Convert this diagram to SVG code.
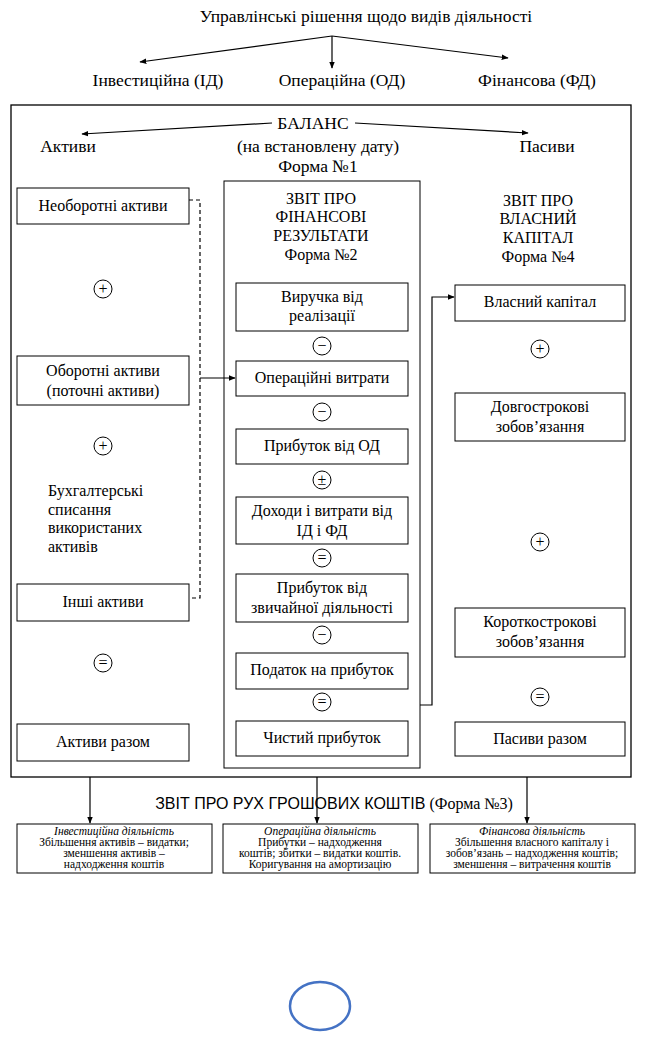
<svg xmlns="http://www.w3.org/2000/svg" width="647" height="1038" viewBox="0 0 647 1038" font-family="'Liberation Serif', 'DejaVu Serif', serif">
<style>
text{font-family:'Liberation Serif','DejaVu Serif',serif;fill:#000}
.h{font-size:17.5px;text-anchor:middle}
.b{font-size:16px;text-anchor:middle}
.s{font-size:11.5px;text-anchor:middle}
.i{font-style:italic}
.box{fill:#fff;stroke:#000;stroke-width:1}
.ln{fill:none;stroke:#000;stroke-width:1.2}
.op circle{fill:#fff;stroke:#000;stroke-width:1}
.op text{font-size:16px;text-anchor:middle}
.sans{font-family:'Liberation Sans','DejaVu Sans',sans-serif}
</style>
<defs>
<marker id="ah" viewBox="0 0 10 10" refX="9" refY="5" markerWidth="7" markerHeight="7" orient="auto" markerUnits="userSpaceOnUse">
<path d="M0,1 L10,5 L0,9 z" fill="#000"/>
</marker>
</defs>
<rect width="647" height="1038" fill="#fff"/>

<g id="title"><text class="h" x="366" y="22">Управлінські рішення щодо видів діяльності</text></g>
<g id="n-id"><text class="h" x="158" y="86">Інвестиційна (ІД)</text></g>
<g id="n-od"><text class="h" x="342" y="86">Операційна (ОД)</text></g>
<g id="n-fd"><text class="h" x="537" y="86">Фінансова (ФД)</text></g>

<g id="outer"><rect x="11" y="105" width="620" height="672" fill="none" stroke="#000" stroke-width="1.3"/></g>

<g id="balance">
<text class="h" x="313" y="129">БАЛАНС</text>
<text class="h" x="318" y="152">(на встановлену дату)</text>
<text class="h" x="318" y="172">Форма №1</text>
</g>
<g id="aktyvy"><text class="h" x="68" y="152">Активи</text></g>
<g id="pasyvy"><text class="h" x="547" y="152">Пасиви</text></g>

<g id="form2">
<rect class="box" x="224" y="181" width="196" height="587"/>
<text class="b" x="321" y="204">ЗВІТ ПРО</text>
<text class="b" x="321" y="222">ФІНАНСОВІ</text>
<text class="b" x="321" y="241">РЕЗУЛЬТАТИ</text>
<text class="b" x="321" y="260">Форма №2</text>
</g>
<g id="form4">
<text class="b" x="538" y="206">ЗВІТ ПРО</text>
<text class="b" x="538" y="224">ВЛАСНИЙ</text>
<text class="b" x="538" y="243">КАПІТАЛ</text>
<text class="b" x="538" y="262">Форма №4</text>
</g>

<g id="neoborotni"><rect class="box" x="17" y="188" width="172" height="36"/><text class="b" x="103" y="211">Необоротні активи</text></g>
<g id="oborotni"><rect class="box" x="17" y="356" width="172" height="49"/><text class="b" x="103" y="376">Оборотні активи</text><text class="b" x="103" y="396">(поточні активи)</text></g>
<g id="inshi"><rect class="box" x="17" y="584" width="172" height="37"/><text class="b" x="103" y="607">Інші активи</text></g>
<g id="aktyvy-razom"><rect class="box" x="17" y="724" width="172" height="37"/><text class="b" x="103" y="747">Активи разом</text></g>
<g id="spysannia">
<text x="48" y="496" font-size="16">Бухгалтерські</text>
<text x="48" y="515" font-size="16">списання</text>
<text x="48" y="533" font-size="16">використаних</text>
<text x="48" y="552" font-size="16">активів</text>
</g>
<g class="op" id="op-l1"><circle cx="103" cy="289" r="9"/><text x="103" y="294">+</text></g>
<g class="op" id="op-l2"><circle cx="103" cy="446" r="9"/><text x="103" y="451">+</text></g>
<g class="op" id="op-l3"><circle cx="103" cy="663" r="9"/><text x="103" y="668">=</text></g>

<g id="vyruchka"><rect class="box" x="236" y="283" width="172" height="48"/><text class="b" x="322" y="302">Виручка від</text><text class="b" x="322" y="321">реалізації</text></g>
<g class="op" id="op-c1"><circle cx="322" cy="346" r="9"/><text x="322" y="351">−</text></g>
<g id="vytraty"><rect class="box" x="236" y="361" width="172" height="35"/><text class="b" x="322" y="383">Операційні витрати</text></g>
<g class="op" id="op-c2"><circle cx="322" cy="412" r="9"/><text x="322" y="417">−</text></g>
<g id="prybutok-od"><rect class="box" x="236" y="429" width="172" height="35"/><text class="b" x="322" y="451">Прибуток від ОД</text></g>
<g class="op" id="op-c3"><circle cx="322" cy="480" r="9"/><text x="322" y="485">±</text></g>
<g id="dokhody"><rect class="box" x="236" y="497" width="172" height="47"/><text class="b" x="322" y="516">Доходи і витрати від</text><text class="b" x="322" y="536">ІД і ФД</text></g>
<g class="op" id="op-c4"><circle cx="322" cy="558" r="9"/><text x="322" y="563">=</text></g>
<g id="zvychaina"><rect class="box" x="236" y="574" width="172" height="48"/><text class="b" x="322" y="593">Прибуток від</text><text class="b" x="322" y="613">звичайної діяльності</text></g>
<g class="op" id="op-c5"><circle cx="322" cy="635" r="9"/><text x="322" y="640">−</text></g>
<g id="podatok"><rect class="box" x="236" y="653" width="172" height="36"/><text class="b" x="322" y="675">Податок на прибуток</text></g>
<g class="op" id="op-c6"><circle cx="322" cy="702" r="9"/><text x="322" y="707">=</text></g>
<g id="chystyi"><rect class="box" x="236" y="721" width="172" height="35"/><text class="b" x="322" y="743">Чистий прибуток</text></g>

<g id="vlasnyi"><rect class="box" x="455" y="285" width="170" height="36"/><text class="b" x="540" y="307">Власний капітал</text></g>
<g class="op" id="op-r1"><circle cx="540" cy="349" r="9"/><text x="540" y="354">+</text></g>
<g id="dovgo"><rect class="box" x="455" y="393" width="170" height="48"/><text class="b" x="540" y="412">Довгострокові</text><text class="b" x="540" y="432">зобов’язання</text></g>
<g class="op" id="op-r2"><circle cx="540" cy="542" r="9"/><text x="540" y="547">+</text></g>
<g id="korotko"><rect class="box" x="455" y="608" width="170" height="49"/><text class="b" x="540" y="627">Короткострокові</text><text class="b" x="540" y="647">зобов’язання</text></g>
<g class="op" id="op-r3"><circle cx="540" cy="697" r="9"/><text x="540" y="702">=</text></g>
<g id="pasyvy-razom"><rect class="box" x="455" y="722" width="170" height="34"/><text class="b" x="540" y="744">Пасиви разом</text></g>

<g id="form3"><text x="334" y="809" text-anchor="middle" font-size="16"><tspan class="sans">ЗВІТ ПРО РУХ ГРОШОВИХ КОШТІВ</tspan> (Форма №3)</text></g>
<g id="cf-inv"><rect class="box" x="17" y="824" width="195" height="49"/>
<text class="s i" x="114" y="835">Інвестиційна діяльність</text>
<text class="s" x="114" y="846">Збільшення активів – видатки;</text>
<text class="s" x="114" y="857">зменшення активів –</text>
<text class="s" x="114" y="868">надходження коштів</text></g>
<g id="cf-op"><rect class="box" x="223" y="824" width="195" height="49"/>
<text class="s i" x="320" y="835">Операційна діяльність</text>
<text class="s" x="320" y="846">Прибутки – надходження</text>
<text class="s" x="320" y="857">коштів; збитки – видатки коштів.</text>
<text class="s" x="320" y="868">Коригування на амортизацію</text></g>
<g id="cf-fin"><rect class="box" x="430" y="824" width="205" height="49"/>
<text class="s i" x="532" y="835">Фінансова діяльність</text>
<text class="s" x="532" y="846">Збільшення власного капіталу і</text>
<text class="s" x="532" y="857">зобов’язань – надходження коштів;</text>
<text class="s" x="532" y="868">зменшення – витрачення коштів</text></g>

<g id="ellipse"><ellipse cx="320" cy="1006" rx="30" ry="24" fill="none" stroke="#4472C4" stroke-width="2.5"/></g>

<g id="connectors">
<path class="ln" d="M332,36 L140,62" marker-end="url(#ah)"/>
<path class="ln" d="M332,36 L332,68" marker-end="url(#ah)"/>
<path class="ln" d="M332,36 L508,58" marker-end="url(#ah)"/>
<path class="ln" d="M272,123 L82,134" marker-end="url(#ah)"/>
<path class="ln" d="M355,123 L528,133" marker-end="url(#ah)"/>
<path class="ln" d="M189,200 H200 V598 H189" stroke-dasharray="4,3"/>
<path class="ln" d="M200,378 H235" marker-end="url(#ah)"/>
<path class="ln" d="M420,705 H432 V297 H454" marker-end="url(#ah)"/>
<path class="ln" d="M90,777 V823" marker-end="url(#ah)"/>
<path class="ln" d="M317,777 V823" marker-end="url(#ah)"/>
<path class="ln" d="M527,777 V823" marker-end="url(#ah)"/>
</g>
</svg>
